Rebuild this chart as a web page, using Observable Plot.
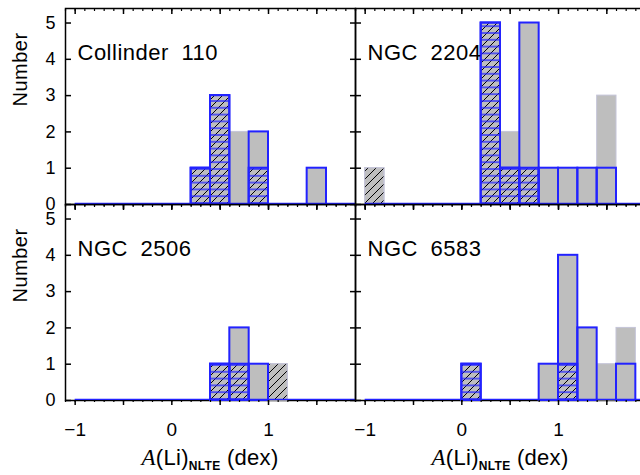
<!DOCTYPE html>
<html><head><meta charset="utf-8">
<script src="https://cdn.jsdelivr.net/npm/d3@7"></script>
<script src="https://cdn.jsdelivr.net/npm/@observablehq/plot@0.6"></script>
<style>
html,body{margin:0;padding:0;overflow:hidden;background:#fff;}
#fig{position:relative;width:660px;height:475px;overflow:hidden;}
.panel{position:absolute;}
.panel g[aria-label="text"] text{word-spacing:6px;letter-spacing:0.5px;}
.xt{position:absolute;font-family:"Liberation Sans",Arial,sans-serif;font-size:22px;white-space:nowrap;transform:translateX(-50%);letter-spacing:0.3px;}
.xt i{font-family:"Liberation Serif",serif;font-size:23px;}
.xt sub{font-size:12px;font-weight:bold;vertical-align:-5px;}
</style></head><body>
<svg width="0" height="0" style="position:absolute">
<defs>
<pattern id="diag" patternUnits="userSpaceOnUse" width="8" height="8">
<path d="M-1,1 l2,-2 M0,8 l8,-8 M7,9 l2,-2" stroke="black" stroke-width="1"/>
</pattern>
<pattern id="hlines" patternUnits="userSpaceOnUse" width="8" height="6.8">
<line x1="0" y1="1" x2="8" y2="1" stroke="#2222ff" stroke-width="1.3"/>
</pattern>
</defs>
</svg>
<div id="fig"></div>
<script>
// Bin start values of A(Li)_NLTE (dex), bin width 0.2
const binStarts = [-1.0,-0.8,-0.6,-0.4,-0.2,0.0,0.2,0.4,0.6,0.8,1.0,1.2,1.4,1.6,1.8];
const binWidth = 0.2;
const clusterNames = ["Collinder 110","NGC 2204","NGC 2506","NGC 6583"];

// Collinder 110
const col110Total  = [0,0,0,0,0,0,1,3,2,2,0,0,1,0,0];
const col110Blue   = [0,0,0,0,0,0,1,3,0,2,0,0,1,0,0];
const col110Hatch  = [0,0,0,0,0,0,1,3,0,1,0,0,0,0,0];
const col110BHatch = [0,0,0,0,0,0,1,3,0,1,0,0,0,0,0];
// NGC 2204
const ngc2204Total  = [1,0,0,0,0,0,5,2,5,1,1,1,3,0,0];
const ngc2204Blue   = [0,0,0,0,0,0,5,1,5,1,1,1,1,0,0];
const ngc2204Hatch  = [1,0,0,0,0,0,5,1,1,0,0,0,0,0,0];
const ngc2204BHatch = [0,0,0,0,0,0,5,1,1,0,0,0,0,0,0];
// NGC 2506
const ngc2506Total  = [0,0,0,0,0,0,0,1,2,1,1,0,0,0,0];
const ngc2506Blue   = [0,0,0,0,0,0,0,1,2,1,0,0,0,0,0];
const ngc2506Hatch  = [0,0,0,0,0,0,0,1,1,0,1,0,0,0,0];
const ngc2506BHatch = [0,0,0,0,0,0,0,1,1,0,0,0,0,0,0];
// NGC 6583
const ngc6583Total  = [0,0,0,0,0,1,0,0,0,1,4,2,1,2,0];
const ngc6583Blue   = [0,0,0,0,0,1,0,0,0,1,4,2,0,1,0];
const ngc6583Hatch  = [0,0,0,0,0,1,0,0,0,0,1,0,0,0,0];
const ngc6583BHatch = [0,0,0,0,0,1,0,0,0,0,1,0,0,0,0];

const yTicks = [0,1,2,3,4,5];
const xMajorTicks = [-1,-0.5,0,0.5,1,1.5];
const xLabelTicks = [-1,0,1];
const xMinorTicks = d3.range(-11, 20).map(k => k / 10);

const BLUE = "#2222ff", GRAY = "#bebebe", EDGE = "#c4c4d8";
const fig = document.getElementById("fig");
const fmtX = d => d < 0 ? "\u2212" + (-d) : String(d);

const panels = [
  {name: clusterNames[0], total: col110Total, blue: col110Blue, hatch: col110Hatch, bhatch: col110BHatch, col: 0, row: 0},
  {name: clusterNames[1], total: ngc2204Total, blue: ngc2204Blue, hatch: ngc2204Hatch, bhatch: ngc2204BHatch, col: 1, row: 0},
  {name: clusterNames[2], total: ngc2506Total, blue: ngc2506Blue, hatch: ngc2506Hatch, bhatch: ngc2506BHatch, col: 0, row: 1},
  {name: clusterNames[3], total: ngc6583Total, blue: ngc6583Blue, hatch: ngc6583Hatch, bhatch: ngc6583BHatch, col: 1, row: 1}
];

for (const p of panels) {
  const rows = binStarts.map((x1, i) => ({x1, x2: x1 + binWidth, total: p.total[i], blue: p.blue[i], hatch: p.hatch[i], bhatch: p.bhatch[i]}));
  const left = p.col === 0, bottom = p.row === 1;
  const zero = () => 0;
  const marks = [
    Plot.frame({stroke: "black", strokeWidth: 1.5}),
    Plot.rect(rows.filter(d => d.total > 0), {x1: "x1", x2: "x2", y1: zero, y2: "total", fill: GRAY, stroke: EDGE, strokeWidth: 1}),
    Plot.rect(rows.filter(d => d.hatch > 0), {x1: "x1", x2: "x2", y1: zero, y2: "hatch", fill: "url(#diag)", stroke: EDGE, strokeWidth: 1}),
    Plot.rect(rows.filter(d => d.bhatch > 0), {x1: "x1", x2: "x2", y1: zero, y2: "bhatch", fill: "url(#hlines)", stroke: BLUE, strokeWidth: 2}),
    Plot.rect(rows.filter(d => d.blue > 0), {x1: "x1", x2: "x2", y1: zero, y2: "blue", fill: "none", stroke: BLUE, strokeWidth: 2}),
    Plot.ruleY([0], {x1: binStarts[0], x2: binStarts[binStarts.length - 1] + binWidth, stroke: BLUE, strokeWidth: 2.5, dy: -0.5, clip: true}),
    Plot.axisY({anchor: "left", ticks: yTicks, tickSize: -6, tickPadding: 16, strokeWidth: 1.5, fontSize: 18, label: null, tickFormat: left ? (d => d) : (() => "")}),
    Plot.axisY({anchor: "right", ticks: yTicks, tickSize: -6, strokeWidth: 1.5, label: null, tickFormat: () => ""}),
    Plot.axisX({anchor: "top", ticks: xMajorTicks, tickSize: -5, strokeWidth: 1.5, label: null, tickFormat: () => ""}),
    Plot.axisX({anchor: "top", ticks: xMinorTicks, tickSize: -2, strokeWidth: 1.2, label: null, tickFormat: () => ""}),
    Plot.axisX({anchor: "bottom", ticks: xMajorTicks, tickSize: 5, strokeWidth: 1.5, label: null, tickFormat: () => ""}),
    Plot.axisX({anchor: "bottom", ticks: xMinorTicks, tickSize: 2, strokeWidth: 1.2, label: null, tickFormat: () => ""}),
    Plot.text([p.name], {frameAnchor: "top-left", dx: 12, dy: 44, textAnchor: "start", lineAnchor: "middle", fontSize: 22, fill: "black"})
  ];
  if (bottom) marks.push(Plot.axisX({anchor: "bottom", ticks: xLabelTicks, tickSize: 0, tickPadding: 22, fontSize: 19, label: null, tickFormat: fmtX}));
  if (left) marks.push(Plot.text(["Number"], {frameAnchor: "left", dx: -45, rotate: -90, fontSize: 20, fill: "black"}));
  const svg = Plot.plot({
    width: 365, height: 281,
    marginLeft: 65, marginRight: 10, marginTop: 10, marginBottom: 75,
    x: {domain: [-1.1, 1.9]},
    y: {domain: [0, 5.4]},
    style: {background: "transparent", overflow: "visible", fontFamily: "Liberation Sans, Arial, sans-serif", color: "black"},
    marks
  });
  svg.classList.add("panel");
  svg.style.left = (p.col * 290) + "px";
  svg.style.top = (p.row === 0 ? -2 : 194) + "px";
  fig.appendChild(svg);
  if (bottom) {
    const t = document.createElement("div");
    t.className = "xt";
    t.innerHTML = "<i>A</i>(Li)<sub>NLTE</sub> (dex)";
    t.style.left = (p.col * 290 + 65 + 145) + "px";
    t.style.top = "445px";
    fig.appendChild(t);
  }
}
</script>
</body></html>
